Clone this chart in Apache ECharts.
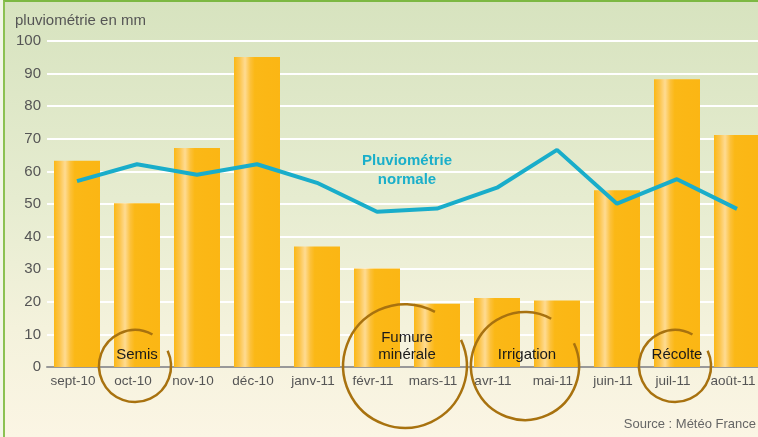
<!DOCTYPE html>
<html>
<head>
<meta charset="utf-8">
<script src="https://cdn.jsdelivr.net/npm/echarts@6/dist/echarts.min.js"></script>
<style>
  html, body { margin: 0; padding: 0; }
  body { width: 758px; height: 437px; overflow: hidden; background: #f3f6e8; }
  #frame {
    position: absolute; left: 3px; top: 0; width: 755px; height: 437px;
    border-top: 2px solid #7db843; border-left: 2px solid #8cc152;
    box-sizing: border-box;
    background: linear-gradient(to bottom, #d7e3bf 0%, #e6ecd0 45%, #f4f2dc 75%, #fbf5e4 100%);
  }
  #chart { position: absolute; left: 0; top: 0; width: 758px; height: 437px; }
</style>
</head>
<body>
<div id="frame"></div>
<div id="chart"></div>
<script>
// mois de sept-10 à août-11
const months = ['sept-10', 'oct-10', 'nov-10', 'déc-10', 'janv-11', 'févr-11',
  'mars-11', 'avr-11', 'mai-11', 'juin-11', 'juil-11', 'août-11'];
// pluviométrie mesurée (mm)
const rainfall = [63.3, 50.2, 67.2, 95.1, 37.0, 30.2, 19.4, 21.2, 20.4, 54.2, 88.3, 71.2];
// pluviométrie normale (mm)
const normal = [57.0, 62.2, 59.0, 62.2, 56.5, 47.6, 48.6, 55.0, 66.6, 50.1, 57.6, 48.5];
const yTicks = [0, 10, 20, 30, 40, 50, 60, 70, 80, 90, 100];

// étapes culturales : label, mois de début/fin, rayon en largeurs de catégorie
const stages = [
  { label: 'Semis', from: 'oct-10', to: 'oct-10', r: 0.6 },
  { label: 'Fumure\nminérale', from: 'févr-11', to: 'mars-11', r: 1.03 },
  { label: 'Irrigation', from: 'avr-11', to: 'mai-11', r: 0.9 },
  { label: 'Récolte', from: 'juil-11', to: 'juil-11', r: 0.6 }
];

const narrow = '"Liberation Sans Narrow", "Liberation Sans", Arial, sans-serif';
const sans = '"Liberation Sans", Arial, sans-serif';

const chart = echarts.init(document.getElementById('chart'));

const option = {
  backgroundColor: 'transparent',
  animation: false,
  grid: { left: 47, top: 41, width: 720, height: 326, outerBoundsMode: 'none', containLabel: false },
  title: {
    text: 'pluviométrie en mm',
    left: 15, top: 13, padding: 0,
    textStyle: { fontFamily: sans, fontSize: 15, fontWeight: 'normal', color: '#555' }
  },
  xAxis: {
    type: 'category',
    data: months,
    axisTick: { show: false },
    axisLine: { lineStyle: { color: '#999', width: 2 } },
    axisLabel: {
      interval: 0,
      fontFamily: narrow, fontSize: 13.5, color: '#555', margin: 7,
      padding: [0, 8, 0, 0]
    }
  },
  yAxis: {
    type: 'value',
    min: yTicks[0], max: yTicks[yTicks.length - 1], interval: 10,
    axisLine: { show: false },
    axisTick: { show: false },
    axisLabel: { fontFamily: sans, fontSize: 15, color: '#555', margin: 6 },
    splitLine: { lineStyle: { color: '#ffffff', width: 2 } }
  },
  series: [
    {
      type: 'bar',
      data: rainfall,
      barWidth: 46,
      itemStyle: {
        color: new echarts.graphic.LinearGradient(0, 0, 1, 0, [
          { offset: 0, color: '#fbb816' },
          { offset: 0.12, color: '#fcc44a' },
          { offset: 0.24, color: '#fedb92' },
          { offset: 0.36, color: '#fcc038' },
          { offset: 0.45, color: '#fbb816' },
          { offset: 1, color: '#fbb614' }
        ])
      },
      z: 2
    },
    {
      type: 'line',
      data: normal,
      symbol: 'none',
      lineStyle: { color: '#19adca', width: 4 },
      z: 3
    }
  ]
};
chart.setOption(option);

// annotations placées avec les échelles du graphique
const catW = chart.convertToPixel({ xAxisIndex: 0 }, months[1]) - chart.convertToPixel({ xAxisIndex: 0 }, months[0]);
const y0 = chart.convertToPixel({ yAxisIndex: 0 }, 0);
const graphics = [];
stages.forEach(s => {
  const cx = (chart.convertToPixel({ xAxisIndex: 0 }, s.from) + chart.convertToPixel({ xAxisIndex: 0 }, s.to)) / 2 - 2;
  const r = s.r * catW;
  graphics.push({
    type: 'arc',
    shape: { cx: cx, cy: y0 - 1, r: r, startAngle: -25 * Math.PI / 180, endAngle: 299 * Math.PI / 180, clockwise: true },
    style: { stroke: '#a8720f', lineWidth: 2.5, fill: null },
    z: 10
  });
  graphics.push({
    type: 'text',
    x: cx + 2,
    y: y0 - 4,
    style: {
      text: s.label, fontFamily: sans, fontSize: 15, fill: '#1a1a1a',
      align: 'center', verticalAlign: 'bottom', lineHeight: 17
    },
    z: 11
  });
});
const lx = (chart.convertToPixel({ xAxisIndex: 0 }, 'févr-11') + chart.convertToPixel({ xAxisIndex: 0 }, 'mars-11')) / 2;
graphics.push({
  type: 'text',
  x: lx, y: chart.convertToPixel({ yAxisIndex: 0 }, 66.3),
  style: {
    text: 'Pluviométrie\nnormale', fontFamily: sans, fontSize: 15, fontWeight: 'bold',
    fill: '#1aafca', align: 'center', verticalAlign: 'top', lineHeight: 19
  },
  z: 11
});
graphics.push({
  type: 'text',
  right: 2, top: 418,
  style: { text: 'Source : Météo France', fontFamily: narrow, fontSize: 13, fill: '#666' },
  z: 11
});
chart.setOption({ graphic: graphics });
</script>
</body>
</html>
